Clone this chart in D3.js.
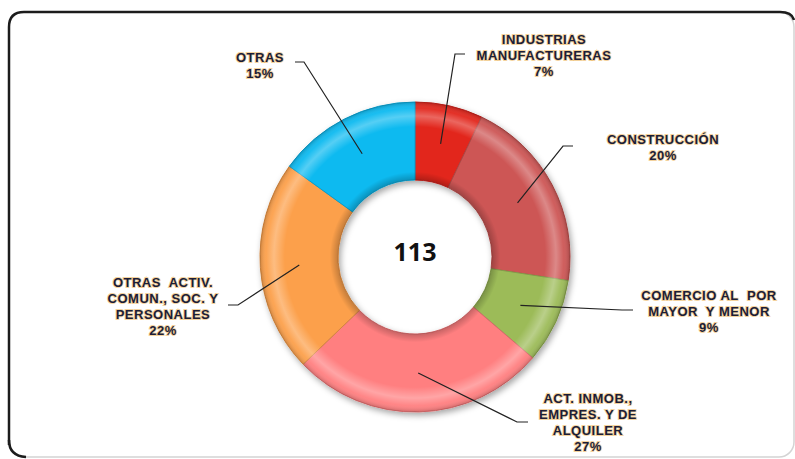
<!DOCTYPE html>
<html>
<head>
<meta charset="utf-8">
<script src="https://cdn.jsdelivr.net/npm/d3@7"></script>
<style>
  body { margin: 0; background: #fff; }
  svg { display: block; }
</style>
</head>
<body>
<svg id="chart" width="795" height="459"></svg>
<script>
// sectors, counts (113 in total)
const sectors = [
  ["INDUSTRIAS", "MANUFACTURERAS"],
  ["CONSTRUCCIÓN"],
  ["COMERCIO AL\u00a0 POR", "MAYOR\u00a0 Y MENOR"],
  ["ACT. INMOB.,", "EMPRES. Y DE", "ALQUILER"],
  ["OTRAS\u00a0 ACTIV.", "COMUN., SOC. Y", "PERSONALES"],
  ["OTRAS"]
];
const counts = [8, 23, 10, 30, 25, 17];
const colors = ["#e2261f", "#cd5654", "#9cbb59", "#ff7f80", "#fca04b", "#0cbaf0"];

// label placement: text centre x, first baseline y, elbow and end of the leader
const labelPos = [
  {x: 544, y: 44, elbow: [455, 54], end: [465, 54]},
  {x: 663, y: 144, elbow: [563, 146], end: [573, 146]},
  {x: 709, y: 300, elbow: [622, 310], end: [633, 310]},
  {x: 588, y: 403, elbow: [517, 422], end: [528, 422]},
  {x: 163, y: 287, elbow: [238, 305], end: [228, 305]},
  {x: 260, y: 62, elbow: [304, 62], end: [295, 62]}
];

const total = d3.sum(counts);
const cx = 415, cy = 257, rOut = 155, rIn = 77;
const svg = d3.select("#chart");
const defs = svg.append("defs");

const shadow = defs.append("filter").attr("id", "shadow")
  .attr("x", "-20%").attr("y", "-20%").attr("width", "140%").attr("height", "140%");
shadow.append("feDropShadow").attr("dx", 2).attr("dy", 3)
  .attr("stdDeviation", 3).attr("flood-color", "#000").attr("flood-opacity", 0.35);

// bevel overlay, centred on the donut (drawn inside the translated group)
const bevel = defs.append("radialGradient").attr("id", "bevel")
  .attr("gradientUnits", "userSpaceOnUse")
  .attr("cx", 0).attr("cy", 0).attr("r", rOut);
[[rIn / rOut, "#000", 0.22], [0.55, "#000", 0], [0.84, "#fff", 0],
 [0.91, "#fff", 0.3], [0.96, "#fff", 0.05], [1, "#000", 0.18]]
  .forEach(s => bevel.append("stop").attr("offset", s[0])
    .attr("stop-color", s[1]).attr("stop-opacity", s[2]));

// frame
svg.append("rect").attr("x", 9).attr("y", 12).attr("width", 785).attr("height", 445)
  .attr("rx", 15).attr("fill", "#fff").attr("stroke", "#d4d4d4").attr("stroke-width", 1.5);
svg.append("path")
  .attr("d", "M9,445 L9,27 Q9,12 24,12 L780,12 Q792,12 794,20")
  .attr("fill", "none").attr("stroke", "#1c1c1c").attr("stroke-width", 2.5);
svg.append("path")
  .attr("d", "M9,440 Q9,456 26,457")
  .attr("fill", "none").attr("stroke", "#1c1c1c").attr("stroke-width", 2.5);

const pie = d3.pie().sort(null).value(d => d)(counts);
const arc = d3.arc().innerRadius(rIn).outerRadius(rOut);
const midArc = d3.arc().innerRadius(116).outerRadius(116);

const g = svg.append("g").attr("transform", `translate(${cx},${cy})`);
const ring = g.append("g").attr("filter", "url(#shadow)");
ring.selectAll("path.slice").data(pie).join("path")
  .attr("class", "slice")
  .attr("d", arc)
  .attr("fill", (d, i) => colors[i])
  .attr("stroke", (d, i) => d3.color(colors[i]).darker(0.5))
  .attr("stroke-width", 1);
g.append("path")
  .attr("d", d3.arc().innerRadius(rIn).outerRadius(rOut).startAngle(0).endAngle(2 * Math.PI)())
  .attr("fill", "url(#bevel)")
  .attr("pointer-events", "none");

// centre total
g.append("text")
  .attr("y", -3)
  .attr("text-anchor", "middle")
  .attr("font-family", "'Noto Sans', 'DejaVu Sans', sans-serif")
  .attr("font-weight", "bold")
  .attr("font-size", 25)
  .attr("dominant-baseline", "middle")
  .attr("fill", "#111")
  .text(total);

// leader lines
svg.append("g").selectAll("polyline").data(pie).join("polyline")
  .attr("points", (d, i) => {
    const c = midArc.centroid(d);
    const p = labelPos[i];
    return [[cx + c[0], cy + c[1]], p.elbow, p.end].map(q => q.join(",")).join(" ");
  })
  .attr("fill", "none")
  .attr("stroke", "#222")
  .attr("stroke-width", 1.2);

// labels
const labels = svg.append("g")
  .attr("font-family", "'Liberation Sans', Arial, sans-serif")
  .attr("font-weight", "bold")
  .attr("font-size", 13)
  .attr("letter-spacing", 0.5)
  .attr("text-anchor", "middle");

labels.selectAll("text").data(pie).join("text")
  .attr("x", (d, i) => labelPos[i].x)
  .attr("y", (d, i) => labelPos[i].y)
  .each(function(d, i) {
    const lines = sectors[i].concat([Math.round(d.value / total * 100) + "%"]);
    const t = d3.select(this);
    lines.forEach((ln, k) => {
      t.append("tspan").attr("x", labelPos[i].x).attr("dy", k === 0 ? 0 : 16).text(ln);
    });
  })
  .attr("fill", "#1b1d38")
  .attr("stroke", "rgba(235,180,90,0.6)")
  .attr("stroke-width", 1.8)
  .attr("paint-order", "stroke");
</script>
</body>
</html>
